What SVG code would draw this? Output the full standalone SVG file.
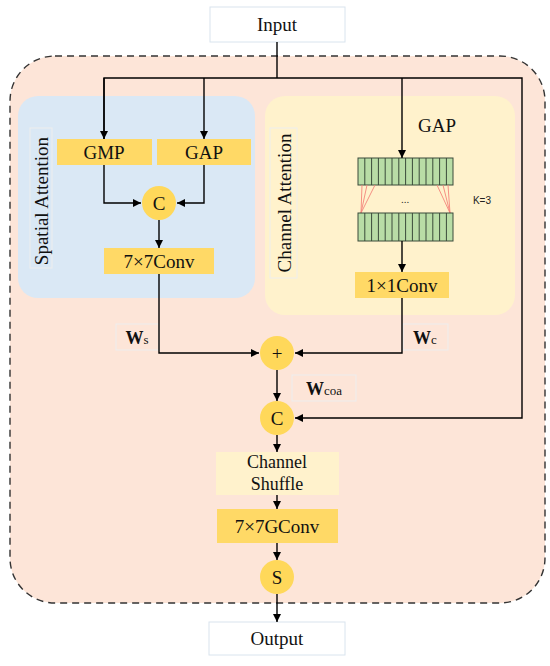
<svg xmlns="http://www.w3.org/2000/svg" width="550" height="666" viewBox="0 0 550 666">
<defs>
<marker id="ah" viewBox="0 0 10 10" refX="10" refY="5" markerWidth="8" markerHeight="8" markerUnits="userSpaceOnUse" orient="auto">
<path d="M0,0 L10,5 L0,10 z" fill="#000"/>
</marker>
<style>
.t{font-family:"Liberation Serif","Times New Roman",serif;font-size:19px;fill:#111;text-anchor:middle;dominant-baseline:central}
.box{fill:#FFD966}
.circ{fill:#FFD85A}
.wb{fill:#fff;stroke:#d9e4ee;stroke-width:1}
.lbl{fill:none;stroke:#eee;stroke-width:1}
.ln{fill:none;stroke:#000;stroke-width:1.4}
.cell{fill:#B9DDA6;stroke:#3a4a3a;stroke-width:1}
.red{stroke:#F4857A;stroke-width:0.9}
</style>
</defs>
<rect width="550" height="666" fill="#fff"/>
<g id="outer">
<rect x="10" y="56" width="535" height="547" rx="45" fill="#FDE5D8" stroke="#333" stroke-width="1.4" stroke-dasharray="7,5"/>
</g>
<g id="spatial-panel">
<rect x="18" y="96" width="237" height="202" rx="20" fill="#DAE8F5"/>
<rect x="30" y="128" width="22" height="140" class="lbl"/>
<text class="t" transform="translate(41,201) rotate(-90)">Spatial Attention</text>
</g>
<g id="channel-panel">
<rect x="265" y="96" width="250" height="219" rx="20" fill="#FFF2CC"/>
<rect x="270" y="128" width="27" height="150" class="lbl"/>
<text class="t" transform="translate(284,203) rotate(-90)">Channel Attention</text>
</g>
<g id="input">
<rect x="210" y="7" width="135" height="35" class="wb"/>
<text class="t" x="277" y="24">Input</text>
</g>
<g id="gmp">
<rect x="57" y="139" width="95" height="26" class="box"/>
<text class="t" x="104" y="152">GMP</text>
</g>
<g id="gap-s">
<rect x="157" y="139" width="94" height="26" class="box"/>
<text class="t" x="204" y="152">GAP</text>
</g>
<g id="concat-s">
<circle cx="159" cy="203" r="17" class="circ"/>
<text class="t" x="159" y="203">C</text>
</g>
<g id="conv7">
<rect x="104" y="248" width="110" height="26" class="box"/>
<text class="t" x="159" y="261">7×7Conv</text>
</g>
<g id="gap-c">
<text class="t" x="437" y="125">GAP</text>
</g>
<g id="strip1">
<rect x="358" y="158" width="95" height="27" class="cell"/>
<path d="M364.8,158v27M371.6,158v27M378.4,158v27M385.2,158v27M392,158v27M398.8,158v27M405.6,158v27M412.4,158v27M419.2,158v27M426,158v27M432.8,158v27M439.6,158v27M446.4,158v27" stroke="#3a4a3a" stroke-width="1"/>
</g>
<g id="conv1d">
<line x1="362" y1="185" x2="361" y2="213" class="red"/>
<line x1="367" y1="185" x2="361" y2="213" class="red"/>
<line x1="375" y1="185" x2="361" y2="213" class="red"/>
<line x1="437" y1="185" x2="450" y2="213" class="red"/>
<line x1="443" y1="185" x2="450" y2="213" class="red"/>
<line x1="448" y1="185" x2="450" y2="213" class="red"/>
<text x="405" y="203" font-family="Liberation Serif, serif" font-size="11" text-anchor="middle" fill="#333">...</text>
<text x="482" y="204" font-family="Liberation Sans, Arial, sans-serif" font-size="10" text-anchor="middle" fill="#222">K=3</text>
</g>
<g id="strip2">
<rect x="358" y="213" width="95" height="28" class="cell"/>
<path d="M364.8,213v28M371.6,213v28M378.4,213v28M385.2,213v28M392,213v28M398.8,213v28M405.6,213v28M412.4,213v28M419.2,213v28M426,213v28M432.8,213v28M439.6,213v28M446.4,213v28" stroke="#3a4a3a" stroke-width="1"/>
</g>
<g id="conv1">
<rect x="355" y="272" width="94" height="26" class="box"/>
<text class="t" x="402" y="285">1×1Conv</text>
</g>
<g id="ws">
<rect x="116" y="324" width="43" height="26" class="lbl"/>
<text x="137" y="344" font-family="Liberation Serif, serif" text-anchor="middle" fill="#111"><tspan font-size="18" font-weight="bold">W</tspan><tspan font-size="13">s</tspan></text>
</g>
<g id="wc">
<rect x="403" y="324" width="45" height="26" class="lbl"/>
<text x="425" y="344" font-family="Liberation Serif, serif" text-anchor="middle" fill="#111"><tspan font-size="18" font-weight="bold">W</tspan><tspan font-size="13">c</tspan></text>
</g>
<g id="add">
<circle cx="277" cy="353" r="17" class="circ"/>
<text class="t" x="277" y="353">+</text>
</g>
<g id="wcoa">
<rect x="292" y="375" width="64" height="26" class="lbl"/>
<text x="324" y="395" font-family="Liberation Serif, serif" text-anchor="middle" fill="#111"><tspan font-size="18" font-weight="bold">W</tspan><tspan font-size="13">coa</tspan></text>
</g>
<g id="concat">
<circle cx="277" cy="418" r="17" class="circ"/>
<text class="t" x="277" y="418">C</text>
</g>
<g id="shuffle">
<rect x="216" y="452" width="123" height="43" fill="#FFF2CC"/>
<text class="t" x="277" y="462" style="font-size:18px">Channel</text>
<text class="t" x="277" y="484" style="font-size:18px">Shuffle</text>
</g>
<g id="gconv">
<rect x="217" y="509" width="121" height="34" class="box"/>
<text class="t" x="277" y="526">7×7GConv</text>
</g>
<g id="sig">
<circle cx="277" cy="577" r="17" class="circ"/>
<text class="t" x="277" y="577">S</text>
</g>
<g id="output">
<rect x="209" y="622" width="136" height="33" class="wb"/>
<text class="t" x="277" y="638">Output</text>
</g>
<g id="connectors">
<path class="ln" d="M277,42 V78"/>
<path class="ln" d="M104,139 V78 H522 V418 H295" marker-end="url(#ah)"/>
<path class="ln" d="M104,78 V139" marker-end="url(#ah)"/>
<path class="ln" d="M204,78 V139" marker-end="url(#ah)"/>
<path class="ln" d="M402,78 V158" marker-end="url(#ah)"/>
<path class="ln" d="M104,165 V203 H141" marker-end="url(#ah)"/>
<path class="ln" d="M204,165 V203 H177" marker-end="url(#ah)"/>
<path class="ln" d="M159,220 V248" marker-end="url(#ah)"/>
<path class="ln" d="M402,241 V272" marker-end="url(#ah)"/>
<path class="ln" d="M159,274 V353 H259" marker-end="url(#ah)"/>
<path class="ln" d="M402,298 V353 H295" marker-end="url(#ah)"/>
<path class="ln" d="M277,370 V401" marker-end="url(#ah)"/>
<path class="ln" d="M277,435 V452" marker-end="url(#ah)"/>
<path class="ln" d="M277,495 V509" marker-end="url(#ah)"/>
<path class="ln" d="M277,543 V560" marker-end="url(#ah)"/>
<path class="ln" d="M277,594 V622" marker-end="url(#ah)"/>
</g>
</svg>
